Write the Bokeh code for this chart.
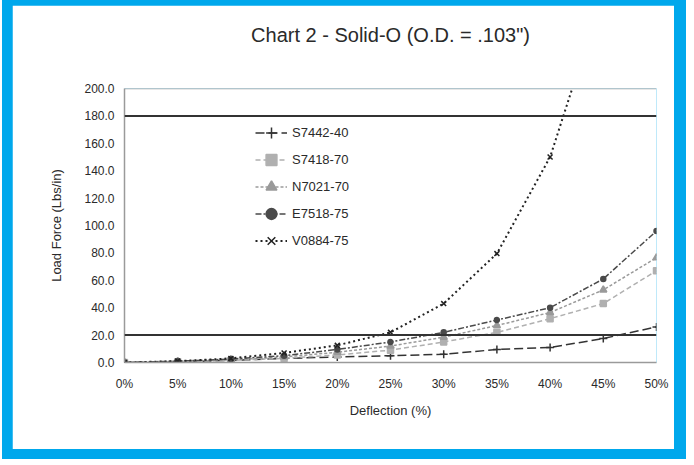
from bokeh.plotting import figure
from bokeh.models import (Range1d, FixedTicker, Span, Legend, LegendItem,
                          NumeralTickFormatter, Column, Title)
from bokeh.embed import file_html
from bokeh.resources import INLINE

# ---- data ----
deflection = [0, 5, 10, 15, 20, 25, 30, 35, 40, 45, 50]
x_tick_labels = ["0%", "5%", "10%", "15%", "20%", "25%", "30%", "35%", "40%", "45%", "50%"]
y_ticks = [0, 20, 40, 60, 80, 100, 120, 140, 160, 180, 200]

s7442_40 = [0, 0.5, 1.5, 3, 4, 5, 6, 9.5, 11, 17.5, 26]
s7418_70 = [0, 0.5, 1.5, 3, 5.5, 9, 15, 22, 32, 43, 67]
n7021_70 = [0, 0.8, 2, 4, 7.5, 12, 18.5, 27, 36.5, 53, 76.5]
e7518_75 = [0, 1, 2.5, 5, 9.5, 15, 22, 31, 40, 61, 96]
v0884_75 = [0, 1, 3, 7, 12.5, 22, 43, 79.5, 150, 270, 480]
ref_lines = [20, 180]

series_names = ["S7442-40", "S7418-70", "N7021-70", "E7518-75", "V0884-75"]
chart_title = 'Chart 2 - Solid-O (O.D. = .103")'

FONT = "Liberation Sans"
TXT = "#2a2a2a"

p = figure(width=662, height=444, output_backend="svg", toolbar_location=None,
           x_range=Range1d(0, 50), y_range=Range1d(0, 200),
           min_border_left=112, min_border_right=18,
           min_border_top=83, min_border_bottom=87)

# real title, then a blank spacer title between it and the frame
p.title.text = chart_title
p.title.align = "center"
p.title.text_font = FONT
p.title.text_font_size = "20px"
p.title.text_font_style = "normal"
p.title.text_color = TXT
p.title.standoff = 0
p.add_layout(Title(text=" ", text_font=FONT, text_font_size="16px", standoff=24), "above")

p.background_fill_color = "white"
p.border_fill_color = "white"
p.outline_line_color = None
p.xgrid.visible = False
p.ygrid.visible = False

p.xaxis.ticker = FixedTicker(ticks=deflection)
p.xaxis.major_label_overrides = {d: lab for d, lab in zip(deflection, x_tick_labels)}
p.yaxis.ticker = FixedTicker(ticks=y_ticks)
p.yaxis.formatter = NumeralTickFormatter(format="0.0")

for ax in (p.xaxis[0], p.yaxis[0]):
    ax.axis_line_color = "#9a9a9a"
    ax.axis_line_width = 1.5
    ax.major_tick_line_color = None
    ax.minor_tick_line_color = None
    ax.major_label_text_font = FONT
    ax.major_label_text_font_size = "12px"
    ax.major_label_text_color = TXT
    ax.axis_label_text_font = FONT
    ax.axis_label_text_font_size = "13px"
    ax.axis_label_text_font_style = "normal"
    ax.axis_label_text_color = TXT

p.xaxis.axis_label = "Deflection (%)"
p.yaxis.axis_label = "Load Force (Lbs/in)"
p.xaxis.major_label_standoff = 8
p.xaxis.axis_label_standoff = 9
p.yaxis.major_label_standoff = 4
p.yaxis.axis_label_standoff = 17

# top border line at 200
p.add_layout(Span(location=200, dimension="width", line_color="#a0a0a0", line_width=1.5))
for r in ref_lines:
    p.add_layout(Span(location=r, dimension="width", line_color="#333333", line_width=2))

styles = [
    dict(data=s7442_40, color="#333333", dash="9 4", marker="cross", msize=8, width=1.5),
    dict(data=s7418_70, color="#b0b0b0", dash="5 3", marker="square", msize=6, width=1.5),
    dict(data=n7021_70, color="#9a9a9a", dash="3 2", marker="triangle", msize=7, width=1.5),
    dict(data=e7518_75, color="#4a4a4a", dash="6 2 2 2", marker="circle", msize=5, width=1.5),
    dict(data=v0884_75, color="#222222", dash="2 3", marker="x", msize=7, width=2),
]

items = []
for name, st in zip(series_names, styles):
    lr = p.line(deflection, st["data"], line_color=st["color"], line_dash=st["dash"],
                line_width=st["width"])
    sr = p.scatter(deflection, st["data"], marker=st["marker"], size=st["msize"],
                   line_color=st["color"], fill_color=st["color"], line_width=1.5)
    items.append(LegendItem(label=name, renderers=[lr, sr]))

legend = Legend(items=items, location=(131, 108), border_line_color=None,
                background_fill_alpha=0, spacing=0, padding=4, margin=0,
                label_height=27, glyph_height=27, glyph_width=32,
                label_text_font=FONT, label_text_font_size="13px",
                label_text_color=TXT)
p.add_layout(legend, "center")

wrapper = Column(children=[p], styles={"background-color": "#00a8ec",
                                       "padding": "10px 12px 10px 10px",
                                       "margin-top": "-5px",
                                       "margin-left": "2px"})

open("out.html", "w").write(file_html(wrapper, INLINE))
